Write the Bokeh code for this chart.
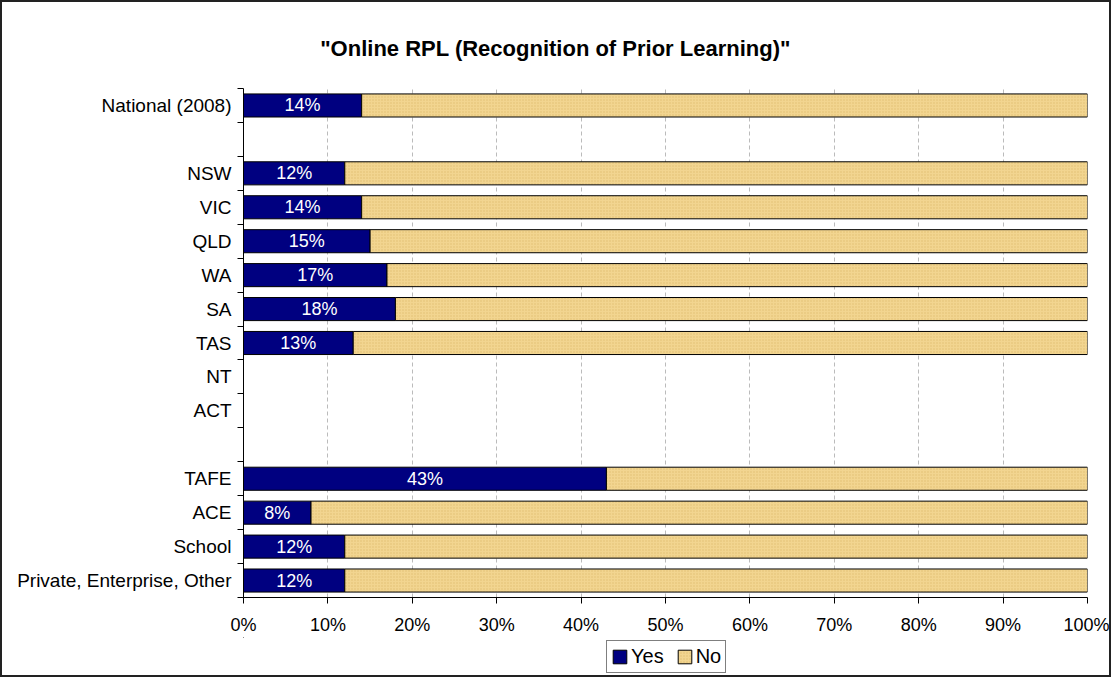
from bokeh.plotting import figure
from bokeh.layouts import column
from bokeh.models import Range1d, FixedTicker, ColumnDataSource, Legend, LegendItem, PrintfTickFormatter
from bokeh.core.properties import value
from bokeh.embed import file_html
from bokeh.resources import INLINE

title_text = '"Online RPL (Recognition of Prior Learning)"'
categories = ["National (2008)", "", "NSW", "VIC", "QLD", "WA", "SA", "TAS",
              "NT", "ACT", "", "TAFE", "ACE", "School", "Private, Enterprise, Other"]
yes_pct = [14, None, 12, 14, 15, 17, 18, 13, None, None, None, 43, 8, 12, 12]
x_ticks = [0, 10, 20, 30, 40, 50, 60, 70, 80, 90, 100]
series_names = ["Yes", "No"]

FONT = "Liberation Sans"
YES_COLOR = "#000080"
NO_COLOR = "#F2D590"
NO_HATCH = dict(hatch_pattern="dot", hatch_scale=3, hatch_color="#D8B466",
                hatch_alpha=0.7, hatch_weight=1)
W = 1107
BL, BR = 241, 22          # left / right borders shared by all strips
FW = W - BL - BR          # frame width in px

n = len(categories)
centers = [n - i - 0.5 for i in range(n)]

ys, yes_vals, no_left, no_right, mids, lbls = [], [], [], [], [], []
for c, v, yc in zip(categories, yes_pct, centers):
    if v is None:
        continue
    ys.append(yc)
    yes_vals.append(v)
    no_left.append(v)
    no_right.append(100)
    mids.append(v / 2)
    lbls.append(f"{v}%")

src = ColumnDataSource(dict(y=ys, yes=yes_vals, nl=no_left, nr=no_right, mid=mids, lbl=lbls))


def blank_fig(h):
    # pixel-mapped strip whose frame lines up with the main chart's frame
    f = figure(width=W, height=h, x_range=Range1d(BL, BL + FW), y_range=Range1d(h, 0),
               output_backend="svg", toolbar_location=None,
               x_axis_location=None, y_axis_location=None,
               min_border_left=BL, min_border_right=BR, min_border_top=0, min_border_bottom=0)
    f.outline_line_color = None
    f.xgrid.visible = False
    f.ygrid.visible = False
    return f


# ---- title strip
t = blank_fig(60)
t.text(x=[553], y=[46], text=[title_text], text_font=value(FONT), text_font_size="22px",
       text_font_style="bold", text_color="black", text_align="center", text_baseline="middle")

# ---- main chart
p = figure(width=W, height=575, x_range=Range1d(0, 100), y_range=Range1d(0, n),
           output_backend="svg", toolbar_location=None, title=None,
           min_border_left=BL, min_border_right=BR, min_border_top=26, min_border_bottom=40)
p.outline_line_color = None

r_yes = p.hbar(y="y", left=0, right="yes", height=0.68, source=src,
               fill_color=YES_COLOR, line_color="black", line_width=1)
r_no = p.hbar(y="y", left="nl", right="nr", height=0.68, source=src,
              fill_color=NO_COLOR, line_color="black", line_width=1, **NO_HATCH)
p.text(x="mid", y="y", text="lbl", source=src, text_color="white",
       text_font=value(FONT), text_font_size="18px",
       text_align="center", text_baseline="middle")

xa = p.xaxis[0]
xa.ticker = FixedTicker(ticks=x_ticks, minor_ticks=[])
xa.formatter = PrintfTickFormatter(format="%d%%")
xa.major_tick_out = 6
xa.major_tick_in = 0
xa.axis_line_color = "black"
xa.major_tick_line_color = "black"
xa.major_label_text_font = FONT
xa.major_label_text_font_size = "18px"
xa.major_label_text_color = "black"
xa.major_label_standoff = 11

ya = p.yaxis[0]
ya.ticker = FixedTicker(ticks=centers, minor_ticks=list(range(0, n + 1)))
ya.major_label_overrides = {yc: c for yc, c in zip(centers, categories)}
ya.major_tick_out = 0
ya.major_tick_in = 0
ya.minor_tick_out = 6
ya.minor_tick_in = 0
ya.minor_tick_line_color = "black"
ya.axis_line_color = "black"
ya.major_label_text_font = FONT
ya.major_label_text_font_size = "19px"
ya.major_label_text_color = "black"
ya.major_label_standoff = 6

p.xgrid.ticker = FixedTicker(ticks=x_ticks[1:])
p.xgrid.grid_line_color = "#BBBBBB"
p.xgrid.grid_line_dash = "4 3"
p.ygrid.visible = False

# ---- legend strip
lg = blank_fig(38)
dummy = ColumnDataSource(dict(y=[-100], l=[0], r=[1]))
d_yes = lg.hbar(y="y", left="l", right="r", height=1, source=dummy,
                fill_color=YES_COLOR, line_color="black")
d_no = lg.hbar(y="y", left="l", right="r", height=1, source=dummy,
               fill_color=NO_COLOR, line_color="black", **NO_HATCH)
legend = Legend(items=[LegendItem(label=series_names[0], renderers=[d_yes]),
                       LegendItem(label=series_names[1], renderers=[d_no])],
                orientation="horizontal", location=(363, 2))
legend.border_line_color = "black"
legend.border_line_width = 1
legend.label_text_font = FONT
legend.label_text_font_size = "20px"
legend.label_text_color = "black"
legend.glyph_width = 17
legend.glyph_height = 17
legend.label_standoff = 3
legend.spacing = 12
legend.padding = 4
legend.margin = 0
legend.background_fill_color = "white"
legend.background_fill_alpha = 1
lg.add_layout(legend)

layout = column(t, p, lg, spacing=0)
layout.styles = {"border": "2px solid #222222"}

open("out.html", "w").write(file_html(layout, INLINE))
